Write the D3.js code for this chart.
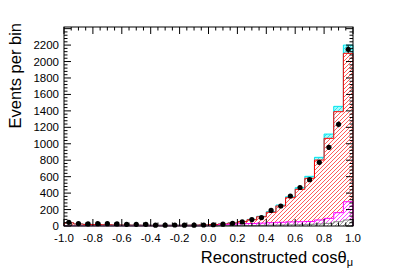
<!DOCTYPE html>
<html><head><meta charset="utf-8">
<script src="https://cdn.jsdelivr.net/npm/d3@7"></script>
<style>body{margin:0;background:#fff}svg{display:block}</style>
</head><body>
<svg id="c" width="407" height="276"></svg>
<script>
// ---- data (30 bins from -1 to 1) ----
const binEdgesMin = -1, binEdgesMax = 1, nBins = 30;
const greyMC    = [2,2,2,2,2,2,2,2,2,2,2,2,2,2,2,2,5,5,5,5,8,10,12,14,16,20,25,32,52,73];
const magentaMC = [2,2,2,2,2,2,2,2,2,2,2,2,2,2,2,3,10,17,23,25,27,30,33,36,36,35,48,61,110,222];
const redMC     = [35,20,15,13,11,9,8,7,6,5,5,5,6,7,9,12,9,14,25,46,77,127,198,294,394,525,729,973,1228,1805];
const cyanMC    = [1,1,1,1,1,1,1,1,1,1,1,1,1,1,1,1,1,2,2,4,6,8,12,12,20,24,33,52,65,100];
const dataPts   = [45,30,25,28,28,25,20,20,20,10,10,12,10,10,12,15,22,32,50,78,103,190,243,365,468,563,774,957,1236,2148];
const xTickVals = [-1.0,-0.8,-0.6,-0.4,-0.2,0.0,0.2,0.4,0.6,0.8,1.0];
const yTickVals = [0,200,400,600,800,1000,1200,1400,1600,1800,2000,2200];
const yMax = 2420;

const svg = d3.select("#c");
const L = 64, R = 353, T = 27, B = 226;
const x = d3.scaleLinear().domain([binEdgesMin, binEdgesMax]).range([L, R]);
const y = d3.scaleLinear().domain([0, yMax]).range([B, T]);
const bw = (binEdgesMax - binEdgesMin) / nBins;

const defs = svg.append("defs");

// stacking
const layers = [
  {id: "g", vals: greyMC, bg: "#ffffff", hatch: "#a0a0a0", stroke: "#888888"},
  {id: "m", vals: magentaMC, bg: "#ffffff", hatch: "#ff40ff", stroke: "#ff00ff"},
  {id: "r", vals: redMC, bg: "#ffffff", hatch: "#ff5c5c", stroke: "#ff0000"},
  {id: "c", vals: cyanMC, bg: "#a0fcfc", hatch: "#30e2ea", stroke: "#00e5ee"}
];
let base = new Array(nBins).fill(0);
const built = layers.map(l => {
  const pts = [];
  for (let i = 0; i < nBins; i++) pts.push({e: binEdgesMin + i * bw, y0: base[i], y1: base[i] + l.vals[i]});
  pts.push({e: binEdgesMax, y0: pts[nBins-1].y0, y1: pts[nBins-1].y1});
  base = base.map((b, i) => b + l.vals[i]);
  return {l, pts};
});
const area = d3.area().curve(d3.curveStepAfter).x(d => x(d.e)).y0(d => y(d.y0)).y1(d => y(d.y1));
const line = d3.line().curve(d3.curveStepAfter).x(d => x(d.e)).y(d => y(d.y1));

const hatchOffsets = d3.range(-(B - T) - 8, (R - L) + 8, 4);
built.forEach(b => {
  const a = area(b.pts);
  defs.append("clipPath").attr("id", "clip-" + b.l.id).append("path").attr("d", a);
  svg.append("path").attr("d", a).attr("fill", b.l.bg).attr("stroke", "none");
  svg.append("g").attr("clip-path", "url(#clip-" + b.l.id + ")")
    .selectAll("line").data(hatchOffsets).join("line")
    .attr("x1", d => L + d).attr("y1", B + 2)
    .attr("x2", d => L + d + (B - T) + 4).attr("y2", T - 2)
    .attr("stroke", b.l.hatch).attr("stroke-width", 1);
});
built.slice().reverse().forEach(b => {
  const d = "M" + x(binEdgesMin) + "," + y(0) + "L" + line(b.pts).slice(1) + "L" + x(binEdgesMax) + "," + y(0);
  svg.append("path").attr("d", d).attr("fill", "none").attr("stroke", b.l.stroke).attr("stroke-width", 1);
});

// data points with errors
const centers = dataPts.map((v, i) => ({c: binEdgesMin + (i + 0.5) * bw, v}));
svg.append("g").selectAll("line").data(centers).join("line")
  .attr("x1", d => x(d.c)).attr("x2", d => x(d.c))
  .attr("y1", d => y(d.v + Math.sqrt(d.v))).attr("y2", d => y(Math.max(0, d.v - Math.sqrt(d.v))))
  .attr("stroke", "#000").attr("stroke-width", 1);
svg.append("g").selectAll("circle").data(centers).join("circle")
  .attr("cx", d => x(d.c)).attr("cy", d => y(d.v)).attr("r", 2.6).attr("fill", "#000");

// frame
svg.append("rect").attr("x", L).attr("y", T).attr("width", R - L).attr("height", B - T)
  .attr("fill", "none").attr("stroke", "#000").attr("stroke-width", 1);

// ticks
const tg = svg.append("g").attr("stroke", "#000").attr("stroke-width", 1);
const xMinor = d3.range(-1, 1.0001, 0.05);
xMinor.forEach((v, i) => {
  const major = (i % 4 === 0);
  const len = major ? 7 : 3.5;
  const px = x(v);
  tg.append("line").attr("x1", px).attr("x2", px).attr("y1", B).attr("y2", B - len);
  tg.append("line").attr("x1", px).attr("x2", px).attr("y1", T).attr("y2", T + len);
});
const yMinor = d3.range(0, yMax, 40);
yMinor.forEach((v, i) => {
  const major = (i % 5 === 0);
  const len = major ? 7 : 3.5;
  const py = y(v);
  tg.append("line").attr("x1", L).attr("x2", L + len).attr("y1", py).attr("y2", py);
  tg.append("line").attr("x1", R).attr("x2", R - len).attr("y1", py).attr("y2", py);
});

// tick labels
const font = "'Liberation Sans', Arial, Helvetica, sans-serif";
svg.append("g").selectAll("text").data(xTickVals).join("text")
  .attr("x", d => x(d)).attr("y", 242).attr("text-anchor", "middle")
  .attr("font-family", font).attr("font-size", 11.5).attr("fill", "#000")
  .text(d => d.toFixed(1));
svg.append("g").selectAll("text").data(yTickVals).join("text")
  .attr("x", 59).attr("y", d => y(d) + 4).attr("text-anchor", "end")
  .attr("font-family", font).attr("font-size", 11.5).attr("fill", "#000")
  .text(d => d);

// axis titles
svg.append("text").attr("transform", "translate(21," + (T - 4) + ") rotate(-90)")
  .attr("text-anchor", "end").attr("font-family", font).attr("font-size", 16.5).attr("fill", "#000")
  .text("Events per bin");
const xt = svg.append("text").attr("x", R).attr("y", 263).attr("text-anchor", "end")
  .attr("font-family", font).attr("font-size", 16.5).attr("fill", "#000");
xt.append("tspan").text("Reconstructed cos\u03B8");
xt.append("tspan").attr("font-size", 11).attr("dy", 3).text("\u03BC");
</script>
</body></html>
